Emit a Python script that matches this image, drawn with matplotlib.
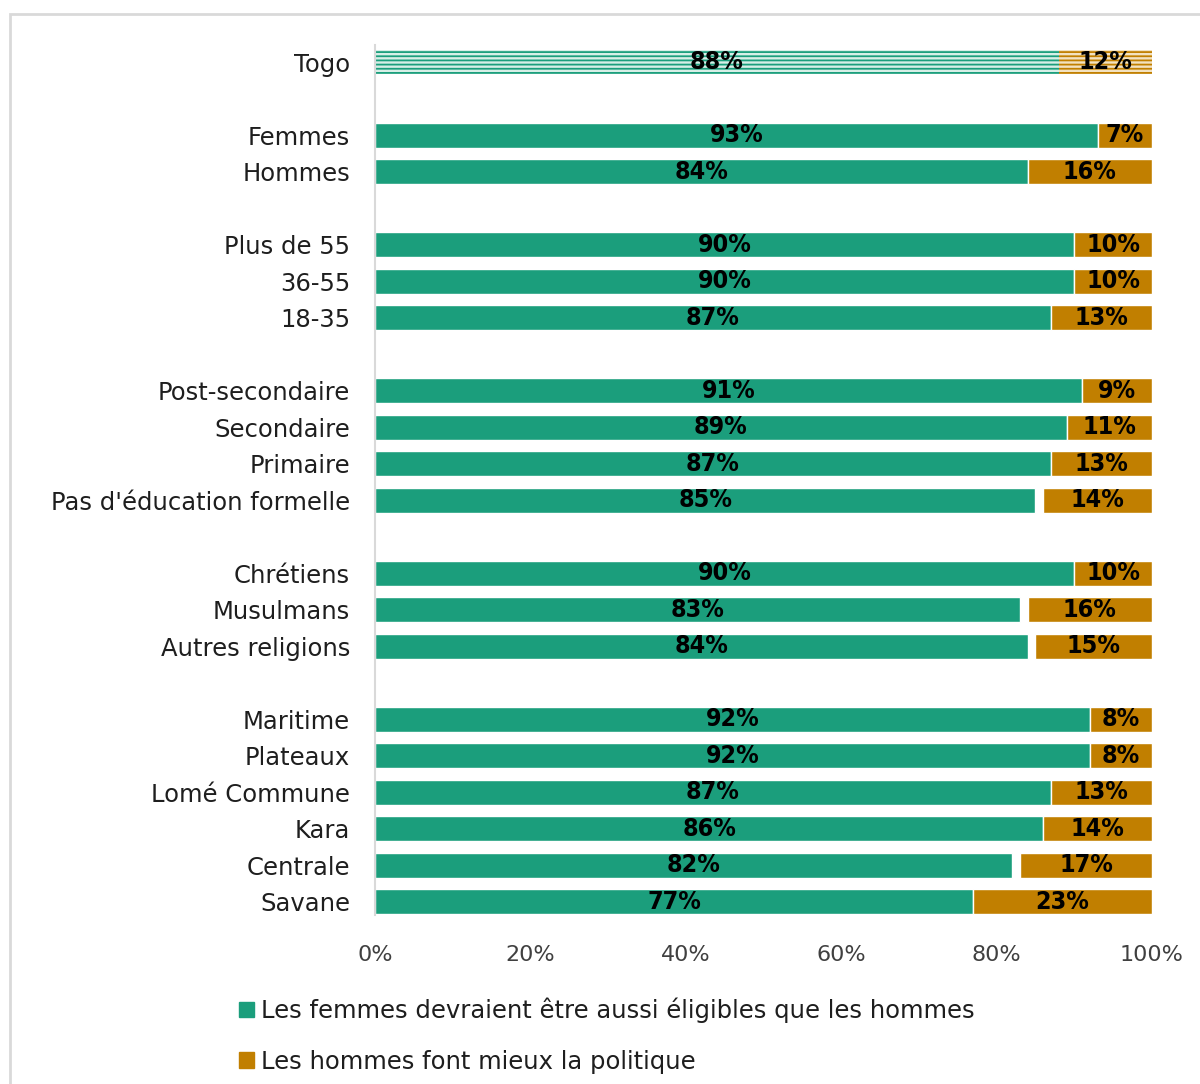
import matplotlib.pyplot as plt
import matplotlib.patches as mpatches

# categories top to bottom, None = blank spacer row
categories = ["Togo", None,
              "Femmes", "Hommes", None,
              "Plus de 55", "36-55", "18-35", None,
              "Post-secondaire", "Secondaire", "Primaire", "Pas d'éducation formelle", None,
              "Chrétiens", "Musulmans", "Autres religions", None,
              "Maritime", "Plateaux", "Lomé Commune", "Kara", "Centrale", "Savane"]
eligible = [88, None, 93, 84, None, 90, 90, 87, None, 91, 89, 87, 85, None,
            90, 83, 84, None, 92, 92, 87, 86, 82, 77]
hommes = [12, None, 7, 16, None, 10, 10, 13, None, 9, 11, 13, 14, None,
          10, 16, 15, None, 8, 8, 13, 14, 17, 23]

legend_labels = ["Les femmes devraient être aussi éligibles que les hommes",
                 "Les hommes font mieux la politique"]

green = '#1b9e7c'
orange = '#c17f00'
txt = '#1e1e1e'

plt.rcParams['font.family'] = ['DejaVu Sans']
plt.rcParams['hatch.linewidth'] = 1.3

fig = plt.figure(figsize=(12, 10.84), dpi=100)
ax = fig.add_axes([0.3125, 0.156, 0.6475, 0.8025])

bold = dict(family=['DejaVu Sans'], fontstretch='condensed', fontweight='bold',
            fontsize=18, color='black', ha='center', va='center')

yticks, ylabels = [], []
for i, cat in enumerate(categories):
    if cat is None:
        continue
    g, o = eligible[i], hommes[i]
    yticks.append(i)
    ylabels.append(cat)
    if i == 0:
        ax.barh(i, g, height=0.64, left=0, facecolor='#d7efe7', edgecolor=green,
                hatch='----', linewidth=0)
        ax.barh(i, o, height=0.64, left=100 - o, facecolor='#f3e2c0', edgecolor=orange,
                hatch='----', linewidth=0)
    else:
        ax.barh(i, g, height=0.68, left=0, color=green, edgecolor='white', linewidth=1)
        ax.barh(i, o, height=0.68, left=100 - o, color=orange, edgecolor='white', linewidth=1)
    ax.text(g / 2, i, f"{g}%", **bold)
    ax.text(100 - o / 2, i, f"{o}%", **bold)

ax.set_xlim(0, 100)
ax.set_ylim(len(categories) - 0.64, -0.47)
ax.set_yticks(yticks)
ax.set_yticklabels(ylabels, fontsize=17.5, color=txt)
ax.set_xticks(range(0, 101, 20))
ax.set_xticklabels([f"{v}%" for v in range(0, 101, 20)], fontsize=16, color='#404040')
ax.tick_params(axis='y', length=0, pad=18)
ax.tick_params(axis='x', length=0, pad=22)
for s in ['top', 'right', 'bottom']:
    ax.spines[s].set_visible(False)
ax.spines['left'].set_color('#d9d9d9')
ax.spines['left'].set_linewidth(1.5)

handles = [mpatches.Patch(color=green), mpatches.Patch(color=orange)]
fig.legend(handles, legend_labels, loc='upper left', bbox_to_anchor=(0.181, 0.1),
           frameon=False, fontsize=17.5, handlelength=0.6, handleheight=0.6,
           handletextpad=0.3, labelspacing=1.1, labelcolor=txt)

# outer chart frame
fig.patches.append(mpatches.Rectangle((10 / 1200, -0.01), 1.0, 1 - 14 / 1084 + 0.01,
                                      transform=fig.transFigure, fill=False,
                                      edgecolor='#d9d9d9', linewidth=2))

fig.savefig('out.png', dpi=100)
